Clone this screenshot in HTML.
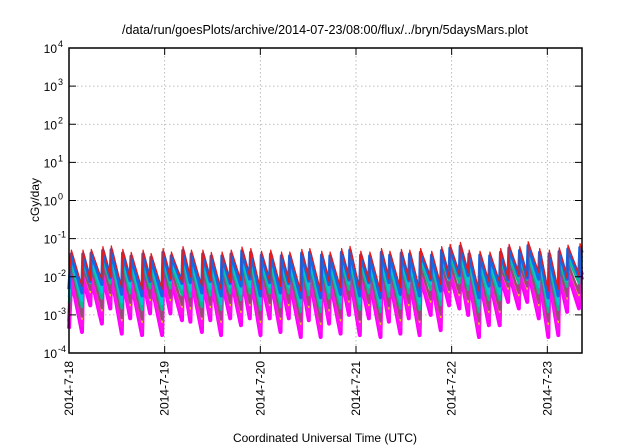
<!DOCTYPE html>
<html><head><meta charset="utf-8">
<style>
html,body{margin:0;padding:0;background:#fff;}
svg{display:block;font-family:"Liberation Sans",sans-serif;}
</style></head>
<body>
<svg id="chart" width="640" height="448" viewBox="0 0 640 448" xmlns="http://www.w3.org/2000/svg">
<rect x="0" y="0" width="640" height="448" fill="#fff"/>
<text x="325" y="34" font-size="12.6" text-anchor="middle" fill="#000">/data/run/goesPlots/archive/2014-07-23/08:00/flux/../bryn/5daysMars.plot</text>
<text transform="translate(39,200) rotate(-90)" font-size="12" text-anchor="middle" fill="#000">cGy/day</text>
<text x="325" y="442" font-size="12" text-anchor="middle" fill="#000">Coordinated Universal Time (UTC)</text>
<g id="grid"></g>
<g id="series"></g>
<g id="axes"></g>
</svg>
<script>
const peakHours=[0.6,3.5,5.6,8.5,10.6,13.5,15.6,18.6,20.6,23.6,25.7,28.6,30.7,33.6,35.7,38.4,40.7,43.4,45.6,48.3,50.6,53.3,55.4,58.4,60.4,63.4,65.5,68.4,70.5,73.2,75.5,78.4,80.5,83.4,85.5,88.2,91.0,93.5,95.6,98.2,100.4,103.1,105.6,108.3,110.4,113.1,115.2,118.1,120.5,123.0,125.2,128.2];
const peakLog=[-1.30,-1.30,-1.28,-1.21,-1.19,-1.28,-1.36,-1.30,-1.39,-1.26,-1.35,-1.21,-1.30,-1.30,-1.36,-1.35,-1.30,-1.22,-1.26,-1.33,-1.30,-1.35,-1.35,-1.28,-1.26,-1.33,-1.35,-1.26,-1.20,-1.33,-1.35,-1.26,-1.33,-1.28,-1.30,-1.26,-1.33,-1.21,-1.15,-1.10,-1.30,-1.33,-1.35,-1.26,-1.15,-1.21,-1.08,-1.26,-1.30,-1.24,-1.17,-1.13];
const troughLog=[-3.36,-3.45,-2.75,-3.23,-2.83,-3.49,-3.09,-3.53,-2.96,-3.53,-2.96,-3.14,-3.18,-3.45,-3.14,-3.53,-3.09,-3.27,-3.09,-3.53,-3.09,-3.45,-3.09,-3.58,-3.14,-3.58,-3.23,-3.49,-3.00,-3.53,-3.09,-3.58,-3.18,-3.49,-3.09,-3.53,-3.00,-3.40,-2.75,-2.83,-3.00,-3.58,-3.27,-3.27,-2.66,-2.83,-2.66,-3.09,-3.58,-3.53,-2.92,-2.83];
const finalTroughLog=-2.9;
const dayLabels=["2014-7-18","2014-7-19","2014-7-20","2014-7-21","2014-7-22","2014-7-23"];
const yExponents=[-4,-3,-2,-1,0,1,2,3,4];
const seriesNames=["magenta-a","magenta-b","yellow","brown","teal","cyan","blue","red"];
const seriesFrac=[1.0,0.85,0.72,0.66,0.45,0.32,0.14,0.0];
const seriesColor=["#ff00ff","#ff10ee","#e8c020","#9a4a7a","#10b890","#00c8d8","#1468e8","#e81818"];
const seriesWidth=[4,4,1.5,2.5,2.5,2.5,3.5,1.2];

const L=69,R=582,T=48,B=353,hMax=128.7;
const xs=h=>L+(h/hMax)*(R-L);
const ys=lg=>B-(lg+4)/8*(B-T);
const NS="http://www.w3.org/2000/svg";
const grid=document.getElementById('grid'),axes=document.getElementById('axes'),ser=document.getElementById('series');
function mk(tag,attrs,parent){const e=document.createElementNS(NS,tag);for(const k in attrs)e.setAttribute(k,attrs[k]);parent.appendChild(e);return e;}

yExponents.forEach(e=>{
  const y=ys(e);
  if(e>-4&&e<4){const g=mk('line',{x1:L,x2:R,y1:y,y2:y,stroke:'#aaa','stroke-width':0.8,'stroke-dasharray':'1.5,2.5'},grid);
  
  }
  mk('line',{x1:L,x2:L+7,y1:y,y2:y,stroke:'#000','stroke-width':1},axes);
  mk('line',{x1:R,x2:R-7,y1:y,y2:y,stroke:'#000','stroke-width':1},axes);
  const t=mk('text',{x:57,y:y+5,'font-size':12,'text-anchor':'end',fill:'#000'},axes);
  
  
  t.textContent='10';
  const s=mk('tspan',{x:58,dy:-6,'font-size':9,'text-anchor':'start'},t);
  s.textContent=String(e);
});
dayLabels.forEach((d,i)=>{
  const x=xs(i*24);
  if(i>0){const g=mk('line',{x1:x,x2:x,y1:T,y2:B,stroke:'#aaa','stroke-width':0.8,'stroke-dasharray':'1.5,2.5'},grid);
  
  }
  mk('line',{x1:x,x2:x,y1:B,y2:B-7,stroke:'#000','stroke-width':1},axes);
  mk('line',{x1:x,x2:x,y1:T,y2:T+7,stroke:'#000','stroke-width':1},axes);
  const t=mk('text',{transform:`translate(${x+4},${B+8}) rotate(-90)`,'font-size':12,'text-anchor':'end',fill:'#000'},axes);
  
  
  t.textContent=d;
});
const frame=mk('rect',{x:L,y:T,width:R-L,height:B-T,fill:'none',stroke:'#000','stroke-width':1.5},axes);



seriesFrac.forEach((f,si)=>{
  const pts=[];
  const n=peakHours.length;
  const endVal=(tr,pk)=>Math.min(tr+(1-f)*1.2,pk-0.6*(1-f)-0.2);
  pts.push([0,troughLog[0]+(1-f)*1.2]);
  for(let i=0;i<n;i++){
    const pk=peakLog[i]-0.75*f;
    if(i>0){pts.push([peakHours[i]-0.25,endVal(troughLog[i],peakLog[i-1]-0.75*f)]);}
    pts.push([peakHours[i],pk]);
  }
  const lastPk=peakLog[n-1]-0.75*f;
  const lastEnd=endVal(finalTroughLog,lastPk);
  const frac=(hMax-peakHours[n-1])/2.6;
  pts.push([hMax,lastPk+(lastEnd-lastPk)*frac]);
  const p=mk('polyline',{points:pts.map(q=>xs(q[0]).toFixed(1)+','+ys(q[1]).toFixed(1)).join(' '),fill:'none',stroke:seriesColor[si],'stroke-width':seriesWidth[si],'stroke-linejoin':'round'},ser);
  
  
});
</script>
</body></html>
